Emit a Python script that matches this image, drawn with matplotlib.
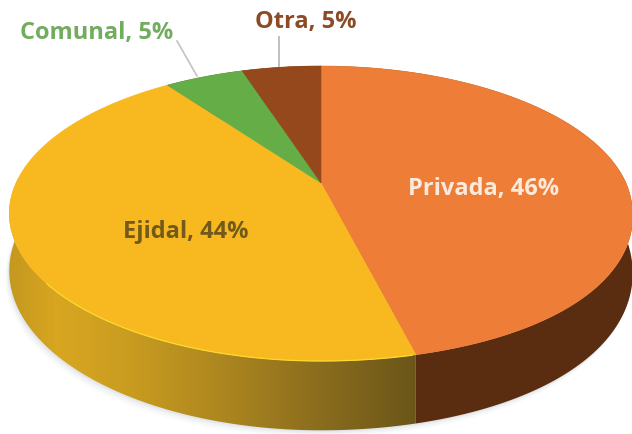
import numpy as np
import matplotlib
matplotlib.use("Agg")
import matplotlib.pyplot as plt
from matplotlib.colors import LinearSegmentedColormap
from matplotlib.patches import Polygon

categories = ["Privada", "Ejidal", "Comunal", "Otra"]
shares = [46, 44, 5, 5]
top_colors = ["#ed7d37", "#f8b920", "#64ad47", "#94481b"]

plt.rcParams["font.family"] = ["Open Sans", "DejaVu Sans"]

W, H = 632, 435
CX, CY = 321, 184      # where the slices meet
KP = 0.2067            # perspective
AY, BX = 141.2, 305
DEPTH = 55
FS = 17


def project(theta, drop=0.0):
    # theta clockwise from the top of the disc
    u, v = np.sin(theta), np.cos(theta)
    d = 1 + KP * v
    # the lower right rim sags a little in the original
    sag = 12 * np.clip(u, 0, None) ** 2 * np.clip(-v, 0, None)
    return CX + BX * u / d, CY - AY * v / d + DEPTH * drop / d + sag


def arc(a0, a1, drop=0.0):
    n = max(int(abs(a1 - a0) * 80), 2)
    return project(np.linspace(a0, a1, n), drop)


def wall_poly(a0, a1):
    x0, y0 = arc(a0, a1)
    x1, y1 = arc(a1, a0, 1.0)
    return np.column_stack([np.r_[x0, x1], np.r_[y0, y1]])


fig = plt.figure(figsize=(W / 100, H / 100), dpi=100)
ax = fig.add_axes([0, 0, 1, 1])

edges = np.r_[0, np.cumsum(shares)] / sum(shares) * 2 * np.pi

# soft shadow below the disc
xs, ys = arc(0, 2 * np.pi, 1.0)
for off, al in zip([7, 5, 3, 1.5], [0.035, 0.05, 0.07, 0.09]):
    ax.fill(xs - off * 0.6, ys + off, color="#8a98a8", alpha=al, lw=0)

# side walls
ax.add_patch(Polygon(wall_poly(edges[0], edges[1]), color="#5a2d10", lw=0))
gold = LinearSegmentedColormap.from_list("gold", [
    (0.0, "#c4981f"), (0.12, "#d8a620"), (0.3, "#c99c20"),
    (0.55, "#a9841f"), (0.8, "#85691d"), (1.0, "#6b5619")])
wall = Polygon(wall_poly(edges[1], edges[2]), transform=ax.transData, fc="none", lw=0)
ax.add_patch(wall)
grad = np.linspace(0, 1, 256).reshape(1, -1)
x_end = project(edges[1])[0]
im = ax.imshow(grad, cmap=gold, extent=[8, x_end, 440, 180], aspect="auto", zorder=2)
im.set_clip_path(wall)
ax.add_patch(Polygon(wall_poly(edges[2], edges[4]), color="#5a2d10", lw=0, zorder=1))

# top faces
for i, c in enumerate(top_colors):
    xa, ya = arc(edges[i], edges[i + 1])
    ax.fill(np.r_[CX, xa], np.r_[CY, ya], color=c, lw=0.4, zorder=3)

# thin highlight on the gold rim
xa, ya = arc(edges[1] + 0.01, edges[1] + 1.15)
ax.plot(xa, ya, color="#fbd92f", lw=0.9, zorder=4)

# leader lines
ax.plot([177, 197], [42, 77], color="#c9c0c4", lw=1.2, zorder=2)
ax.plot([279, 279], [38, 67], color="#c4bfbf", lw=1.4, zorder=2)

ax.text(484, 189, f"{categories[0]}, {shares[0]}%", color="#fbeadb", fontsize=FS,
        fontweight="bold", ha="center", va="center", zorder=5)
ax.text(186, 232, f"{categories[1]}, {shares[1]}%", color="#735a1b", fontsize=FS,
        fontweight="bold", ha="center", va="center", zorder=5)
ax.text(97, 33, f"{categories[2]}, {shares[2]}%", color="#72ad5f", fontsize=FS,
        fontweight="bold", ha="center", va="center", zorder=5)
ax.text(306, 22, f"{categories[3]}, {shares[3]}%", color="#8c4a25", fontsize=FS,
        fontweight="bold", ha="center", va="center", zorder=5)

ax.set_xlim(0, W)
ax.set_ylim(H, 0)
ax.axis("off")
fig.savefig("out.png", dpi=100)
